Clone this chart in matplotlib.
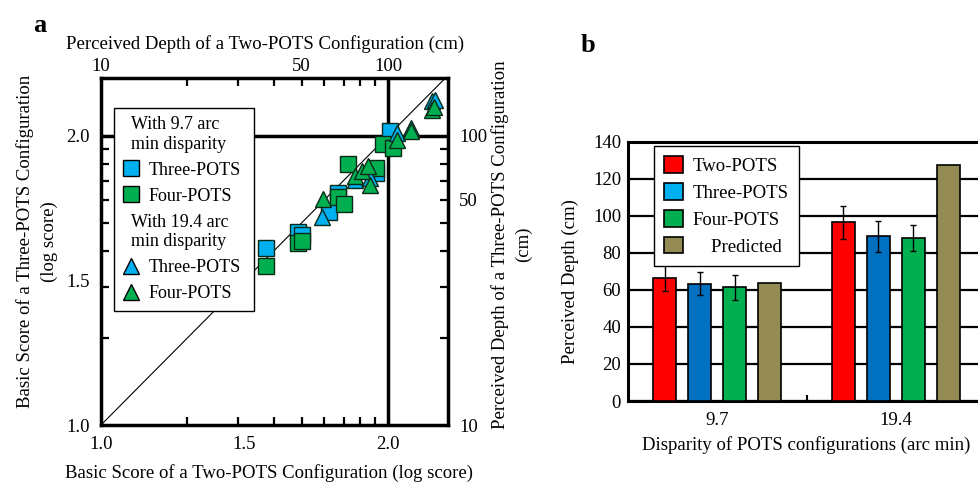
import numpy as np
import matplotlib
matplotlib.use('Agg')
import matplotlib.pyplot as plt
from matplotlib.lines import Line2D

plt.rcParams['font.family'] = ['Liberation Serif', 'DejaVu Serif']
FS = 13.5

# ---------------- Panel a data (log scores) ----------------
sq3_x = [1.574, 1.687, 1.699, 1.795, 1.827, 1.958, 2.007]
sq3_y = [1.611, 1.669, 1.657, 1.738, 1.804, 1.872, 2.015]
sq4_x = [1.574, 1.687, 1.699, 1.826, 1.847, 1.860, 1.958, 1.984, 2.018]
sq4_y = [1.551, 1.629, 1.638, 1.789, 1.765, 1.903, 1.888, 1.971, 1.957]
tr3_x = [1.769, 1.885, 1.937, 2.030, 2.080, 2.152, 2.164]
tr3_y = [1.721, 1.848, 1.854, 2.009, 2.027, 2.119, 2.125]
tr4_x = [1.772, 1.885, 1.908, 1.929, 1.937, 2.030, 2.080, 2.152, 2.160]
tr4_y = [1.781, 1.862, 1.880, 1.894, 1.830, 1.986, 2.015, 2.090, 2.101]

score_ticks = [1.0, 1.5, 2.0]
top_depth_ticks = [10, 50, 100]
top_depth_labels = ['10', '50', '100']
right_depth_ticks = [10, 60, 100]          # label placement as printed in the original
right_depth_labels = ['10', '50', '100']
depth_minor = [20, 30, 40, 50, 60, 70, 80, 90]

# ---------------- Panel b data ----------------
categories = ['9.7', '19.4']
two_pots = [66.4, 96.5]
two_err = [6.9, 8.8]
three_pots = [63.3, 88.9]
three_err = [6.3, 8.4]
four_pots = [61.4, 88.0]
four_err = [6.7, 6.9]
predicted = [63.5, 127.2]

LBLUE = '#00B0F0'
DBLUE = '#0070C0'
GREEN = '#00B050'
RED = '#FF0000'
OLIVE = '#948A54'
EDGE = '#0a2a18'

fig = plt.figure(figsize=(9.79, 4.86), dpi=100)
W, H = 979, 486

# ================= Panel a =================
axa = fig.add_axes([101 / W, 1 - 425 / H, 347 / W, 347 / H])
axa.set_xlim(1.0, 2.209)
axa.set_ylim(1.0, 2.2)
for s in axa.spines.values():
    s.set_linewidth(2.5)
axa.axvline(2.0, color='k', lw=2.5, zorder=2)
axa.axhline(2.0, color='k', lw=2.5, zorder=2)
axa.plot([1.0, 2.2], [1.0, 2.2], color='k', lw=0.8, zorder=2)

ms = 11.3
axa.plot(sq3_x, sq3_y, 's', ms=ms, mfc=LBLUE, mec=EDGE, mew=1.0, ls='none', zorder=3)
axa.plot(sq4_x, sq4_y, 's', ms=ms, mfc=GREEN, mec=EDGE, mew=1.0, ls='none', zorder=3)
axa.plot(tr3_x, tr3_y, '^', ms=ms, mfc=LBLUE, mec=EDGE, mew=1.0, ls='none', zorder=3)
axa.plot(tr4_x, tr4_y, '^', ms=ms, mfc=GREEN, mec=EDGE, mew=1.0, ls='none', zorder=3)

axa.set_xticks(score_ticks)
axa.set_xticklabels([f'{v:.1f}' for v in score_ticks])
axa.set_yticks(score_ticks)
axa.set_yticklabels([f'{v:.1f}' for v in score_ticks])
axa.set_xticks(np.log10(depth_minor), minor=True)
axa.set_yticks(np.log10(depth_minor), minor=True)
axa.tick_params(which='major', length=0, labelsize=FS)
axa.tick_params(axis='x', which='major', pad=8)
axa.tick_params(axis='y', which='major', pad=8)
axa.tick_params(which='minor', direction='in', length=6, width=1.6,
                top=True, bottom=True, left=True, right=True)

fwd = lambda x: 10 ** x
inv = lambda v: np.log10(np.maximum(v, 1e-9))

secx = axa.secondary_xaxis('top', functions=(fwd, inv))
secx.set_xticks(top_depth_ticks)
secx.set_xticklabels(top_depth_labels)
secx.tick_params(length=0, labelsize=FS, pad=2)
secx.spines['top'].set_visible(False)
secx.set_xlabel('Perceived Depth of a Two-POTS Configuration (cm)', fontsize=FS, labelpad=7)
secx.xaxis.label.set_x(0.474)

secy = axa.secondary_yaxis('right', functions=(fwd, inv))
secy.set_yticks(right_depth_ticks)
secy.set_yticklabels(right_depth_labels)
secy.tick_params(length=0, labelsize=FS, pad=8)
secy.spines['right'].set_visible(False)
secy.set_ylabel('Perceived Depth of a Three-POTS Configuration\n(cm)', fontsize=FS,
                labelpad=3, linespacing=1.45)
secy.yaxis.label.set_y(0.52)

axa.set_xlabel('Basic Score of a Two-POTS Configuration (log score)', fontsize=FS, labelpad=8)
axa.xaxis.label.set_x(0.485)
axa.set_ylabel('Basic Score of a Three-POTS Configuration\n(log score)', fontsize=FS,
               labelpad=6, linespacing=1.5)
axa.yaxis.label.set_y(0.528)

blank = Line2D([], [], ls='none')
ha = [blank,
      Line2D([], [], marker='s', ms=ms, mfc=LBLUE, mec='k', ls='none'),
      Line2D([], [], marker='s', ms=ms, mfc=GREEN, mec='k', ls='none'),
      blank,
      Line2D([], [], marker='^', ms=ms, mfc=LBLUE, mec='k', ls='none'),
      Line2D([], [], marker='^', ms=ms, mfc=GREEN, mec='k', ls='none')]
la = ['With 9.7 arc\nmin disparity', 'Three-POTS', 'Four-POTS',
      'With 19.4 arc\nmin disparity', 'Three-POTS', 'Four-POTS']
lega = axa.legend(ha, la, loc='upper left', bbox_to_anchor=(0.0375, 0.9135),
                  borderaxespad=0, fontsize=13, frameon=True, fancybox=False,
                  framealpha=1, edgecolor='k', handlelength=1.0, handletextpad=0.45,
                  labelspacing=0.5, borderpad=0.45)
lega.get_frame().set_linewidth(1.0)
lega.set_zorder(5)
for i in (0, 3):
    lega.get_texts()[i].set_position((-17, 0))

fig.text(40 / W, 1 - 25 / H, 'a', fontsize=19, fontweight='bold', ha='center', va='center')

# ================= Panel b =================
axb = fig.add_axes([628 / W, 1 - 401 / H, 357 / W, 259.3 / H])
x = np.arange(len(categories))
bw = 0.127
offs = [-0.294, -0.098, 0.098, 0.294]
ekw = dict(ecolor='k', elinewidth=1.0, capsize=2.5, capthick=1.0)
axb.bar(x + offs[0], two_pots, bw, yerr=two_err, color=RED, edgecolor='k', lw=1.2,
        label='Two-POTS', error_kw=ekw, zorder=3)
axb.bar(x + offs[1], three_pots, bw, yerr=three_err, color=DBLUE, edgecolor='k', lw=1.2,
        label='Three-POTS', error_kw=ekw, zorder=3)
axb.bar(x + offs[2], four_pots, bw, yerr=four_err, color=GREEN, edgecolor='k', lw=1.2,
        label='Four-POTS', error_kw=ekw, zorder=3)
axb.bar(x + offs[3], predicted, bw, color=OLIVE, edgecolor='k', lw=1.2,
        label='    Predicted', zorder=3)

axb.set_xlim(-0.5, 1.5)
axb.set_ylim(0, 140)
axb.set_yticks(np.arange(0, 141, 20))
axb.yaxis.grid(True, color='k', lw=1.6, zorder=0)
axb.set_axisbelow(True)
axb.set_xticks(x)
axb.set_xticklabels(categories)
axb.set_xticks([0.5], minor=True)
axb.tick_params(which='major', length=0, labelsize=FS)
axb.tick_params(axis='x', which='major', pad=8)
axb.tick_params(axis='y', which='major', pad=5)
axb.tick_params(axis='x', which='minor', direction='in', length=4, width=1.5)
for s in axb.spines.values():
    s.set_linewidth(2.2)
axb.set_xlabel('Disparity of POTS configurations (arc min)', fontsize=FS, labelpad=5)
axb.set_ylabel('Perceived Depth (cm)', fontsize=FS, labelpad=10)
axb.yaxis.label.set_y(0.459)

legb = axb.legend(loc='upper left', bbox_to_anchor=(0.073, 0.983), borderaxespad=0,
                  fontsize=FS, frameon=True, fancybox=False, framealpha=1, edgecolor='k',
                  handlelength=1.0, handleheight=0.95, handletextpad=0.5,
                  labelspacing=0.45, borderpad=0.55)
legb.get_frame().set_linewidth(1.0)
legb.set_zorder(5)
legb.legend_handles[1].set_facecolor(LBLUE)

fig.text(588 / W, 1 - 45 / H, 'b', fontsize=19, fontweight='bold', ha='center', va='center')

fig.savefig('out.png', dpi=100)
